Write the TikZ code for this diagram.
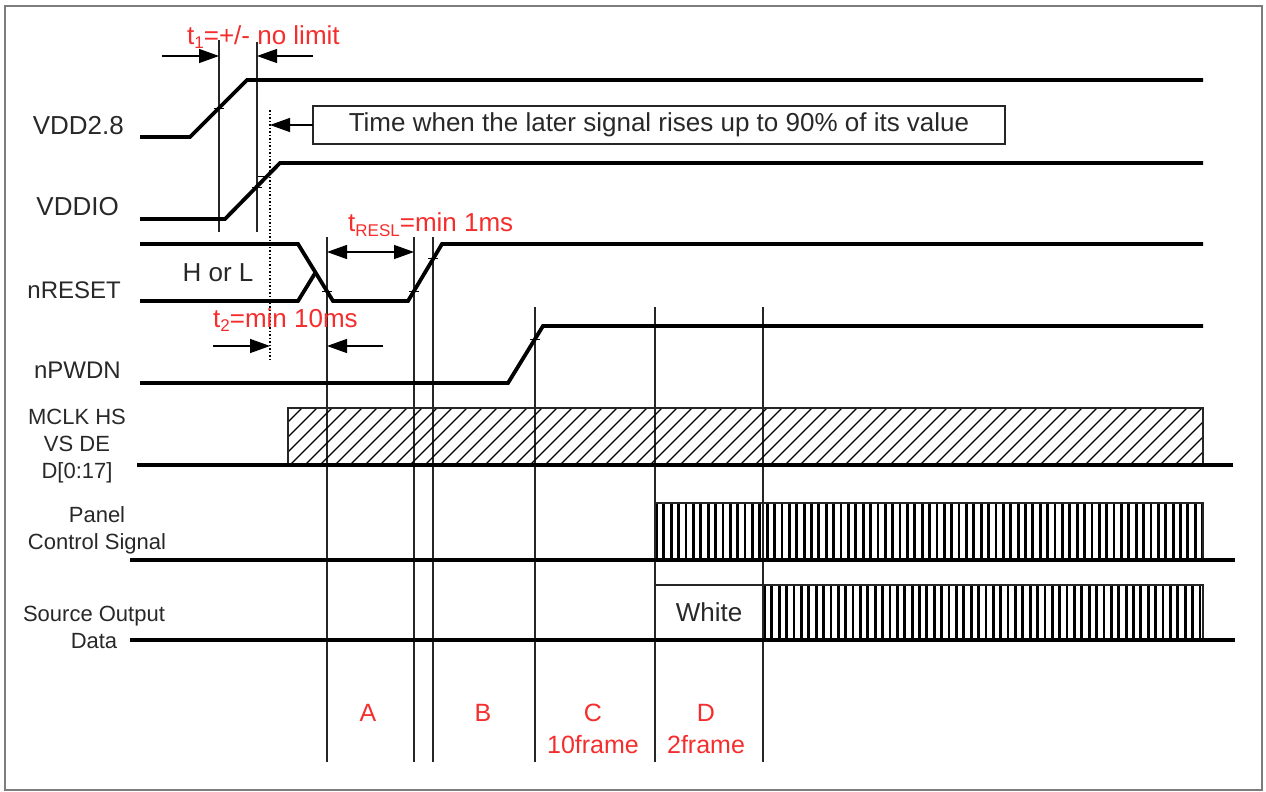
\documentclass[tikz,border=0pt]{standalone}
\usepackage{fontspec}
\setmainfont{Liberation Sans}
\usetikzlibrary{arrows.meta}
\definecolor{tred}{RGB}{245,45,45}
\definecolor{tgray}{RGB}{125,125,125}
\definecolor{ttext}{RGB}{40,40,40}
\newcommand\subsc[1]{\raisebox{-0.35ex}{\fontsize{17}{17}\selectfont #1}}
\begin{document}
\begin{tikzpicture}[x=1pt,y=-1pt,
  sig/.style={line width=3.8pt, line join=miter},
  vline/.style={line width=1.4pt, black!85},
  thin/.style={line width=1.3pt, black!85},
  stripe/.style={line width=2.8pt},
  hatchline/.style={line width=1.1pt},
  tickm/.style={line width=1pt},
  lbl/.style={font=\fontsize{26}{30}\selectfont, text=ttext, inner sep=0pt},
  slbl/.style={font=\fontsize{22}{27}\selectfont, text=ttext, inner sep=0pt, align=center},
  rlbl/.style={font=\fontsize{26}{30}\selectfont, text=tred, inner sep=0pt},
  blbl/.style={font=\fontsize{25}{29}\selectfont, text=tred, inner sep=0pt},
  arr/.style={line width=1.4pt, -{Triangle[length=20pt,width=14pt]}},
  darr/.style={line width=1.4pt, {Triangle[length=20pt,width=14pt]}-{Triangle[length=20pt,width=14pt]}}]
\useasboundingbox (0,0) rectangle (1266,792);
\draw[tgray, line width=2.2pt] (5,6) rectangle (1262,790);

% key coordinates
\coordinate (t1a) at (219,56);
\coordinate (t1b) at (257,56);
\coordinate (t1l) at (162,56);
\coordinate (t1r) at (313,56);
\coordinate (dotT) at (270,110);
\coordinate (dotB) at (270,360);

% vertical reference lines
\draw[vline] (219,40) -- (219,232);
\draw[vline] (257,42) -- (257,232);
\draw[line width=1.1pt, dash pattern=on 1.5pt off 2pt] (dotT) -- (dotB);
\foreach \x in {327,414,433}{\draw[vline] (\x,237) -- (\x,762);}
\foreach \x in {535,655,763}{\draw[vline] (\x,307) -- (\x,762);}

% signals
\draw[sig] (140,137) -- (190,137) -- (247,80) -- (1203,80);
\draw[sig] (140,219) -- (225,219) -- (280,163) -- (1203,163);
\draw[sig] (140,244) -- (298,244) -- (333,301) -- (408,301) -- (442,244) -- (1203,244);
\draw[sig] (140,301) -- (298,301) -- (315.5,272.5);
\draw[sig] (140,383) -- (508,383) -- (543,326) -- (1203,326);

% ticks
\foreach \p in {(219,108),(257,187),(263,176),(327,291),(414,291),(433,258),(535,339)}{
  \draw[tickm] \p ++(-5,0) -- ++(10,0);}

% hatched bus
\begin{scope}
  \clip (288,408) rectangle (1203,465);
  \foreach \x in {230,245,...,1215}{\draw[hatchline] (\x,465) -- (\x+57,408);}
\end{scope}
\draw[thin] (288,465) -- (288,408) -- (1203,408) -- (1203,465);
\draw[sig] (137,465) -- (1233,465);

% panel control signal stripes
\foreach \i in {0,...,74}{\draw[stripe] ({656.5+7.38*\i},503) -- ({656.5+7.38*\i},560);}
\draw[thin] (655,560) -- (655,503) -- (1203,503) -- (1203,560);
\draw[sig] (130,560) -- (1235,560);

% source output data
\draw[thin] (655,640) -- (655,585) -- (763,585);
\foreach \i in {0,...,59}{\draw[stripe] ({764.5+7.38*\i},585) -- ({764.5+7.38*\i},640);}
\draw[thin] (763,640) -- (763,585) -- (1203,585) -- (1203,640);
\draw[sig] (130,640) -- (1235,640);
\node[lbl] (white) at (709,612) {White};

% annotation box
\draw[thin] (313,106) rectangle (1005,144);
\node[lbl] (note) at (659,125) {Time when the later signal rises up to 90\% of its value};
\draw[arr] (313,125) -- (dotT |- 0,125);

% t1 arrows
\draw[arr] (t1l) -- (t1a);
\draw[arr] (t1r) -- (t1b);
\node[rlbl, anchor=west] (t1) at (187,37) {t\subsc{1}=+/- no limit};

% tRESL
\draw[darr] (327,252) -- (414,252);
\node[rlbl, anchor=west] (tresl) at (348,225) {t\subsc{RESL}=min 1ms};

% t2
\draw[arr] (213,346) -- (270,346);
\draw[arr] (383,346) -- (327,346);
\node[rlbl, anchor=west] (t2) at (213,320) {t\subsc{2}=min 10ms};

\node[lbl] (hl) at (218,273) {H or L};

% signal labels
\node[lbl, anchor=east] (vdd) at (124,126) {VDD2.8};
\node[lbl, anchor=east] (vddio) at (119,207) {VDDIO};
\node[lbl, anchor=east, font=\fontsize{24}{28}\selectfont] (nres) at (121,290) {nRESET};
\node[lbl, anchor=east, font=\fontsize{24}{28}\selectfont] (npw) at (121,370) {nPWDN};
\node[slbl] (mclk) at (77,446) {MCLK HS\\VS DE\\D[0:17]};
\node[slbl] (panel) at (97,530) {Panel\\Control Signal};
\node[slbl] (src) at (94,627) {Source Output\\Data};

% phase labels
\node[blbl] (A) at (368,713) {A};
\node[blbl] (B) at (483,713) {B};
\node[blbl] (C) at (593,713) {C};
\node[blbl] (C2) at (593,745) {10frame};
\node[blbl] (D) at (706,713) {D};
\node[blbl] (D2) at (706,745) {2frame};
\end{tikzpicture}
\end{document}
